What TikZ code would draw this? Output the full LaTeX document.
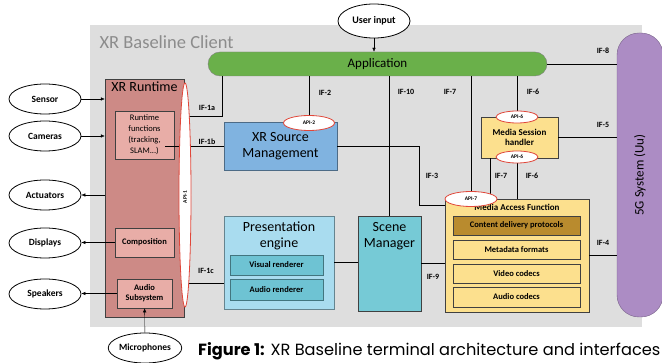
\documentclass[tikz,border=0pt]{standalone}
\usepackage{fontspec}
\setmainfont{Carlito}
\newfontfamily\capfont{Poppins}
\usetikzlibrary{arrows.meta,shapes.geometric,calc}
\definecolor{bggray}{HTML}{DEDEDE}
\definecolor{appgreen}{HTML}{6AB04A}
\definecolor{rtred}{HTML}{CD8A86}
\definecolor{rtsub}{HTML}{E8ADA7}
\definecolor{xsblue}{HTML}{80B3E0}
\definecolor{peblue}{HTML}{A9DCEF}
\definecolor{peteal}{HTML}{6EC3D3}
\definecolor{smteal}{HTML}{76CAD6}
\definecolor{mayellow}{HTML}{FCE08E}
\definecolor{magold}{HTML}{B98B2E}
\definecolor{gpurple}{HTML}{AC8CC4}
\definecolor{apired}{HTML}{E0473A}
\pgfdeclarelayer{back}
\pgfdeclarelayer{front}
\pgfsetlayers{back,main,front}
\begin{document}
\begin{tikzpicture}[x=1pt,y=-1pt,
    ext/.style={draw,ellipse,line width=0.8pt,fill=white,minimum width=72pt,minimum height=30pt,inner sep=0pt,font=\fontsize{9.5}{11}\selectfont\bfseries},
    api/.style={draw=apired,line width=0.8pt,ellipse,fill=white,inner sep=0pt,font=\fontsize{5.5}{6}\selectfont\bfseries},
    iflab/.style={font=\fontsize{8}{9}\selectfont\bfseries},
    big/.style={font=\fontsize{14}{16}\selectfont,align=center},
    sub/.style={draw=black!75,line width=0.6pt,inner sep=0pt,align=center,font=\fontsize{8.5}{11}\selectfont\bfseries},
    arr/.style={-{Latex[length=4pt,width=3.5pt]}},
    line width=0.6pt]
    \useasboundingbox (0,0) rectangle (662,363);
    %% client area
    \begin{pgfonlayer}{back}
        \fill[bggray] (90,25) rectangle (642,327);
    \end{pgfonlayer}
    \node[anchor=base west,text=black!45,font=\fontsize{18.5}{22}\selectfont] (title) at (96,49) {XR Baseline Client};
    %% application and 5G
    \node[ext,minimum width=72pt,minimum height=34pt,font=\fontsize{10}{11}\selectfont\bfseries] (user) at (374,21) {User input};
    \node[draw=black!50,fill=appgreen,rounded corners=12pt,minimum width=339pt,minimum height=24pt,inner sep=0pt,font=\fontsize{13}{14}\selectfont] (app) at (377.5,64) {Application};
    \node[draw=gpurple!70!black,fill=gpurple,rounded corners=22pt,minimum width=46pt,minimum height=284pt] (g5) at (640,175) {};
    \node[rotate=90,font=\fontsize{13}{14}\selectfont] at (g5.center) {5G System (Uu)};
    %% XR runtime
    \node[draw=black!75,fill=rtred,minimum width=79pt,minimum height=238pt] (rt) at (144.5,198) {};
    \node[anchor=north,big,inner sep=3pt] at (rt.north) {XR Runtime};
    \node[sub,fill=rtsub,minimum width=59pt,minimum height=48pt,font=\fontsize{8.5}{11}\selectfont] (rf) at (144.5,135) {Runtime\\functions\\(tracking,\\SLAM...)};
    \node[sub,fill=rtsub,minimum width=59pt,minimum height=29pt] (comp) at (144.5,242.5) {Composition};
    \node[sub,fill=rtsub,minimum width=55pt,minimum height=29pt,font=\fontsize{8.5}{10}\selectfont\bfseries] (aud) at (144.5,293.5) {Audio\\Subsystem};
    %% devices
    \node[ext] (sensor) at (45,99) {Sensor};
    \node[ext] (cam) at (45,136) {Cameras};
    \node[ext] (act) at (45,195) {Actuators};
    \node[ext] (disp) at (45,243) {Displays};
    \node[ext] (spk) at (45,294) {Speakers};
    \node[ext,minimum width=70pt] (mic) at (145,348) {Microphones};
    %% source management, presentation, scene
    \node[draw=xsblue!60!black,fill=xsblue,minimum width=113pt,minimum height=48pt,big] (xsm) at (280.5,146) {XR Source\\Management};
    \node[draw=peblue!60!black,fill=peblue,minimum width=110pt,minimum height=93pt] (pe) at (279,262.5) {};
    \node[big] at (279,236) {Presentation\\engine};
    \node[sub,draw=peteal!60!black,fill=peteal,minimum width=93pt,minimum height=20pt] (vr) at (276.5,265) {Visual renderer};
    \node[sub,draw=peteal!60!black,fill=peteal,minimum width=93pt,minimum height=21pt] (ar) at (276.5,289.5) {Audio renderer};
    \node[draw=black!75,fill=smteal,minimum width=63pt,minimum height=95pt] (sm) at (389.5,263.5) {};
    \node[big] at (389.5,236) {Scene\\Manager};
    %% media
    \node[sub,fill=mayellow,minimum width=77pt,minimum height=41pt,font=\fontsize{9}{10.5}\selectfont\bfseries] (msh) at (519.5,137.5) {Media Session\\handler};
    \node[draw=black!75,fill=mayellow,minimum width=144pt,minimum height=113pt] (maf) at (517,255.5) {};
    \node[font=\fontsize{9}{10}\selectfont\bfseries] at (517,207) {Media Access Function};
    \node[sub,fill=magold,minimum width=127pt,minimum height=19pt] (cdp) at (516.5,225.5) {Content delivery protocols};
    \node[sub,fill=mayellow,minimum width=127pt,minimum height=19pt] (mdf) at (516.5,249.5) {Metadata formats};
    \node[sub,fill=mayellow,minimum width=127pt,minimum height=19pt] (vc) at (516.5,273.5) {Video codecs};
    \node[sub,fill=mayellow,minimum width=127pt,minimum height=20pt] (ac) at (516.5,297) {Audio codecs};
    %% APIs
    \begin{pgfonlayer}{front}
        \node[api,minimum width=12pt,minimum height=224pt] (api1) at (185,195) {};
        \node[rotate=90,inner sep=0pt,font=\fontsize{5.5}{6}\selectfont\bfseries] at (185,197) {API-1};
        \node[api,minimum width=51pt,minimum height=15pt] (api2) at (309,123) {API-2};
        \node[api,minimum width=42pt,minimum height=12pt] (api6a) at (517,117) {API-6};
        \node[api,minimum width=42pt,minimum height=12pt] (api6b) at (517,157) {API-6};
        \node[api,minimum width=52pt,minimum height=15pt] (api7) at (471,199) {API-7};
    \end{pgfonlayer}
    %% devices to runtime
    \draw[arr] (sensor) -- (sensor -| rt.west);
    \draw[arr] (cam) -- (cam -| rt.west);
    \draw[arr] (act -| rt.west) -- (act);
    \draw[arr] (comp.west) -- (comp.west -| disp.east);
    \draw[arr] (aud.west) -- (aud.west -| spk.east);
    \draw[arr] (mic) -- (aud);
    \draw[arr] (user) -- (user |- app.north);
    %% interfaces
    \coordinate (c1a) at (222,116);
    \draw (c1a -| api1.center) -- (c1a) -- (c1a |- app.south);
    \draw ($(rf.east |- xsm.west)+(-9,0)$) -- (xsm.west);
    \draw (api1.center |- 0,283) -- (pe.west |- 0,283);
    \draw (api2.center |- app.south) -- (api2.center);
    \draw (sm.north |- app.south) -- (sm.north);
    \draw (api7.center |- app.south) -- (api7.center);
    \draw (api6a.center |- app.south) -- (api6a.center);
    \draw (api6b.center) -- (api6b.center |- maf.north);
    \coordinate (m7) at ([xshift=9pt]msh.south west);
    \draw (m7) -- (m7 |- api7.center);
    \coordinate (c3) at (419,205);
    \draw (xsm.east) -| (c3) -- (c3 -| maf.west);
    \draw (pe.east) -- (pe.east -| sm.west);
    \draw (sm.east) -- (sm.east -| maf.west);
    \draw (app.east) -- (app.east -| g5.west);
    \draw (msh.east) -- (msh.east -| g5.west);
    \draw (maf.east) -- (maf.east -| g5.west);
    %% labels
    \node[iflab] at (207,108) {IF-1a};
    \node[iflab] at (207,142) {IF-1b};
    \node[iflab] at (206,271) {IF-1c};
    \node[iflab] at (325,93) {IF-2};
    \node[iflab] at (406,92) {IF-10};
    \node[iflab] at (450,92) {IF-7};
    \node[iflab] at (533,92) {IF-6};
    \node[iflab] at (603,51) {IF-8};
    \node[iflab] at (603,125) {IF-5};
    \node[iflab] at (432,176) {IF-3};
    \node[iflab] at (501,176) {IF-7};
    \node[iflab] at (532,176) {IF-6};
    \node[iflab] at (603,243) {IF-4};
    \node[iflab] at (433,277) {IF-9};
    %% caption
    \node[anchor=base west,inner sep=0pt,font=\capfont\fontsize{16.2}{17}\selectfont] (cap) at (198,356) {\textbf{Figure 1:} XR Baseline terminal architecture and interfaces};
\end{tikzpicture}
\end{document}
